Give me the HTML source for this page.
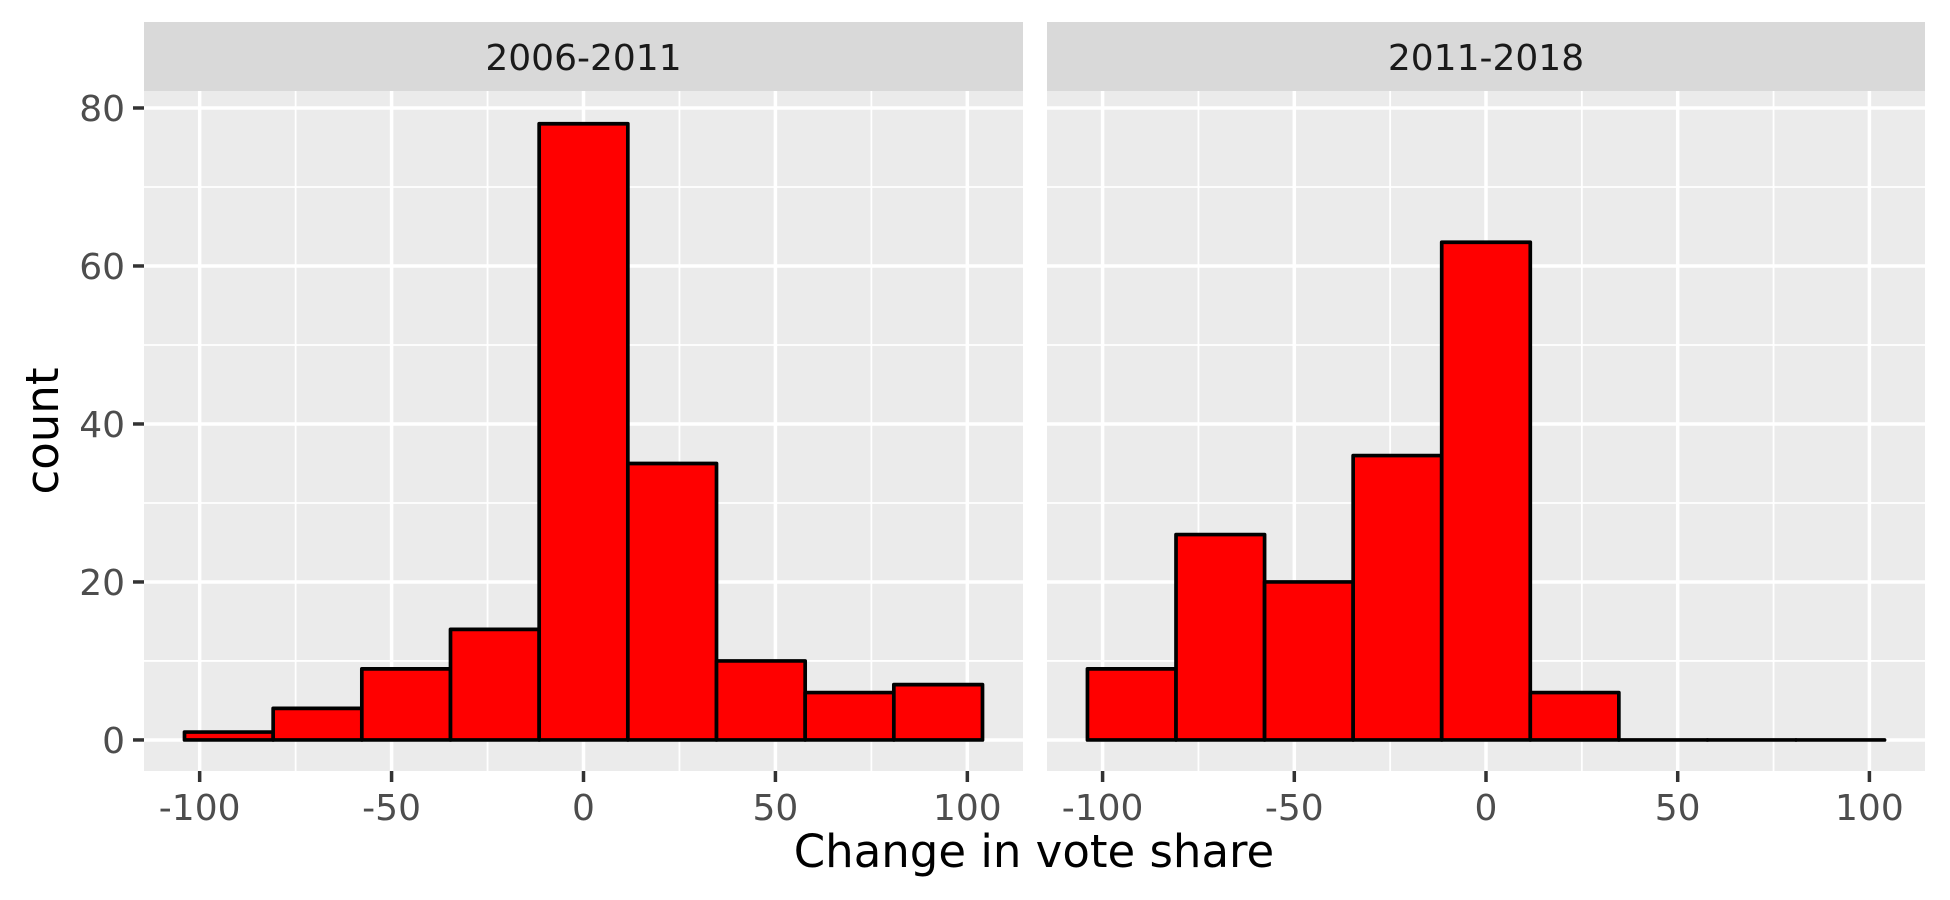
<!DOCTYPE html>
<html><head><meta charset="utf-8"><style>
html,body{margin:0;padding:0;background:#fff;}
svg{display:block;font-family:"DejaVu Sans","Liberation Sans",sans-serif;}
</style></head><body>
<svg id="chart" width="1950" height="900" viewBox="0 0 1950 900"></svg>
<script>
const binCenters = [-92.4,-69.3,-46.2,-23.1,0,23.1,46.2,69.3,92.4];
const binWidth = 23.1;
const panelTitles = ["2006-2011","2011-2018"];
const counts2006 = [1,4,9,14,78,35,10,6,7];
const counts2011 = [9,26,20,36,63,6,0,0,0];
const xTicks = [-100,-50,0,50,100];
const xMinor = [-75,-25,25,75];
const yTicks = [0,20,40,60,80];
const yMinor = [10,30,50,70];

const NS="http://www.w3.org/2000/svg";
const svg=document.getElementById('chart');
function mk(tag,attrs,parent){const e=document.createElementNS(NS,tag);for(const k in attrs)e.setAttribute(k,attrs[k]);(parent||svg).appendChild(e);return e;}
const plotTop=91,plotBottom=771;
const yMin=-3.93,yMax=82.15;
function yS(v){return plotBottom-(v-yMin)/(yMax-yMin)*(plotBottom-plotTop);}
const panels=[{x0:144,x1:1023,data:counts2006},{x0:1047,x1:1925,data:counts2011}];
const xMin=-114.5,xMax=114.5;
panels.forEach((p,i)=>{
  const xS=v=>p.x0+(v-xMin)/(xMax-xMin)*(p.x1-p.x0);
  const g=mk('g',{});
  
  
  const strip=mk('rect',{x:p.x0,y:22,width:p.x1-p.x0,height:69,fill:'#d9d9d9'},g);
  
  
  const st=mk('text',{x:(p.x0+p.x1)/2,y:70,'text-anchor':'middle','font-size':36,fill:'#1a1a1a'},g);
  st.textContent=panelTitles[i];
  
  
  const bg=mk('rect',{x:p.x0,y:plotTop,width:p.x1-p.x0,height:plotBottom-plotTop,fill:'#ebebeb'},g);
  
  
  yMinor.forEach(v=>{const l=mk('line',{x1:p.x0,x2:p.x1,y1:yS(v),y2:yS(v),stroke:'#fff','stroke-width':1.8},g);});
  xMinor.forEach(v=>{const l=mk('line',{x1:xS(v),x2:xS(v),y1:plotTop,y2:plotBottom,stroke:'#fff','stroke-width':1.8},g);});
  yTicks.forEach(v=>{const l=mk('line',{x1:p.x0,x2:p.x1,y1:yS(v),y2:yS(v),stroke:'#fff','stroke-width':3.5},g);});
  xTicks.forEach(v=>{const l=mk('line',{x1:xS(v),x2:xS(v),y1:plotTop,y2:plotBottom,stroke:'#fff','stroke-width':3.5},g);});
  p.data.forEach((c,k)=>{
    const xl=xS(binCenters[k]-binWidth/2),xr=xS(binCenters[k]+binWidth/2);
    const yt=yS(c),yb=yS(0);
    const r=mk('path',{d:`M${xl},${yb}L${xl},${yt}L${xr},${yt}L${xr},${yb}Z`,fill:'#ff0000',stroke:'#000','stroke-width':3.7,'stroke-linejoin':'round'},g);
    
    
  });
  xTicks.forEach(v=>{
    const t=mk('line',{x1:xS(v),x2:xS(v),y1:plotBottom,y2:plotBottom+11,stroke:'#333','stroke-width':3.5},g);
    
    
    const tx=mk('text',{x:xS(v),y:820,'text-anchor':'middle','font-size':36,fill:'#4d4d4d'},g);
    tx.textContent=v;
    
    
  });
  if(i===0){
    yTicks.forEach(v=>{
      const t=mk('line',{x1:133,x2:144,y1:yS(v),y2:yS(v),stroke:'#333','stroke-width':3.5},g);
      
      
      const tx=mk('text',{x:125,y:yS(v)+13,'text-anchor':'end','font-size':36,fill:'#4d4d4d'},g);
      tx.textContent=v;
      
      
    });
  }
});
const xt=mk('text',{x:1034,y:867,'text-anchor':'middle','font-size':45,fill:'#000'});
xt.textContent='Change in vote share';


const yt=mk('text',{x:0,y:0,'text-anchor':'middle','font-size':45,fill:'#000',transform:'translate(58,431) rotate(-90)'});
yt.textContent='count';


</script>
</body></html>
